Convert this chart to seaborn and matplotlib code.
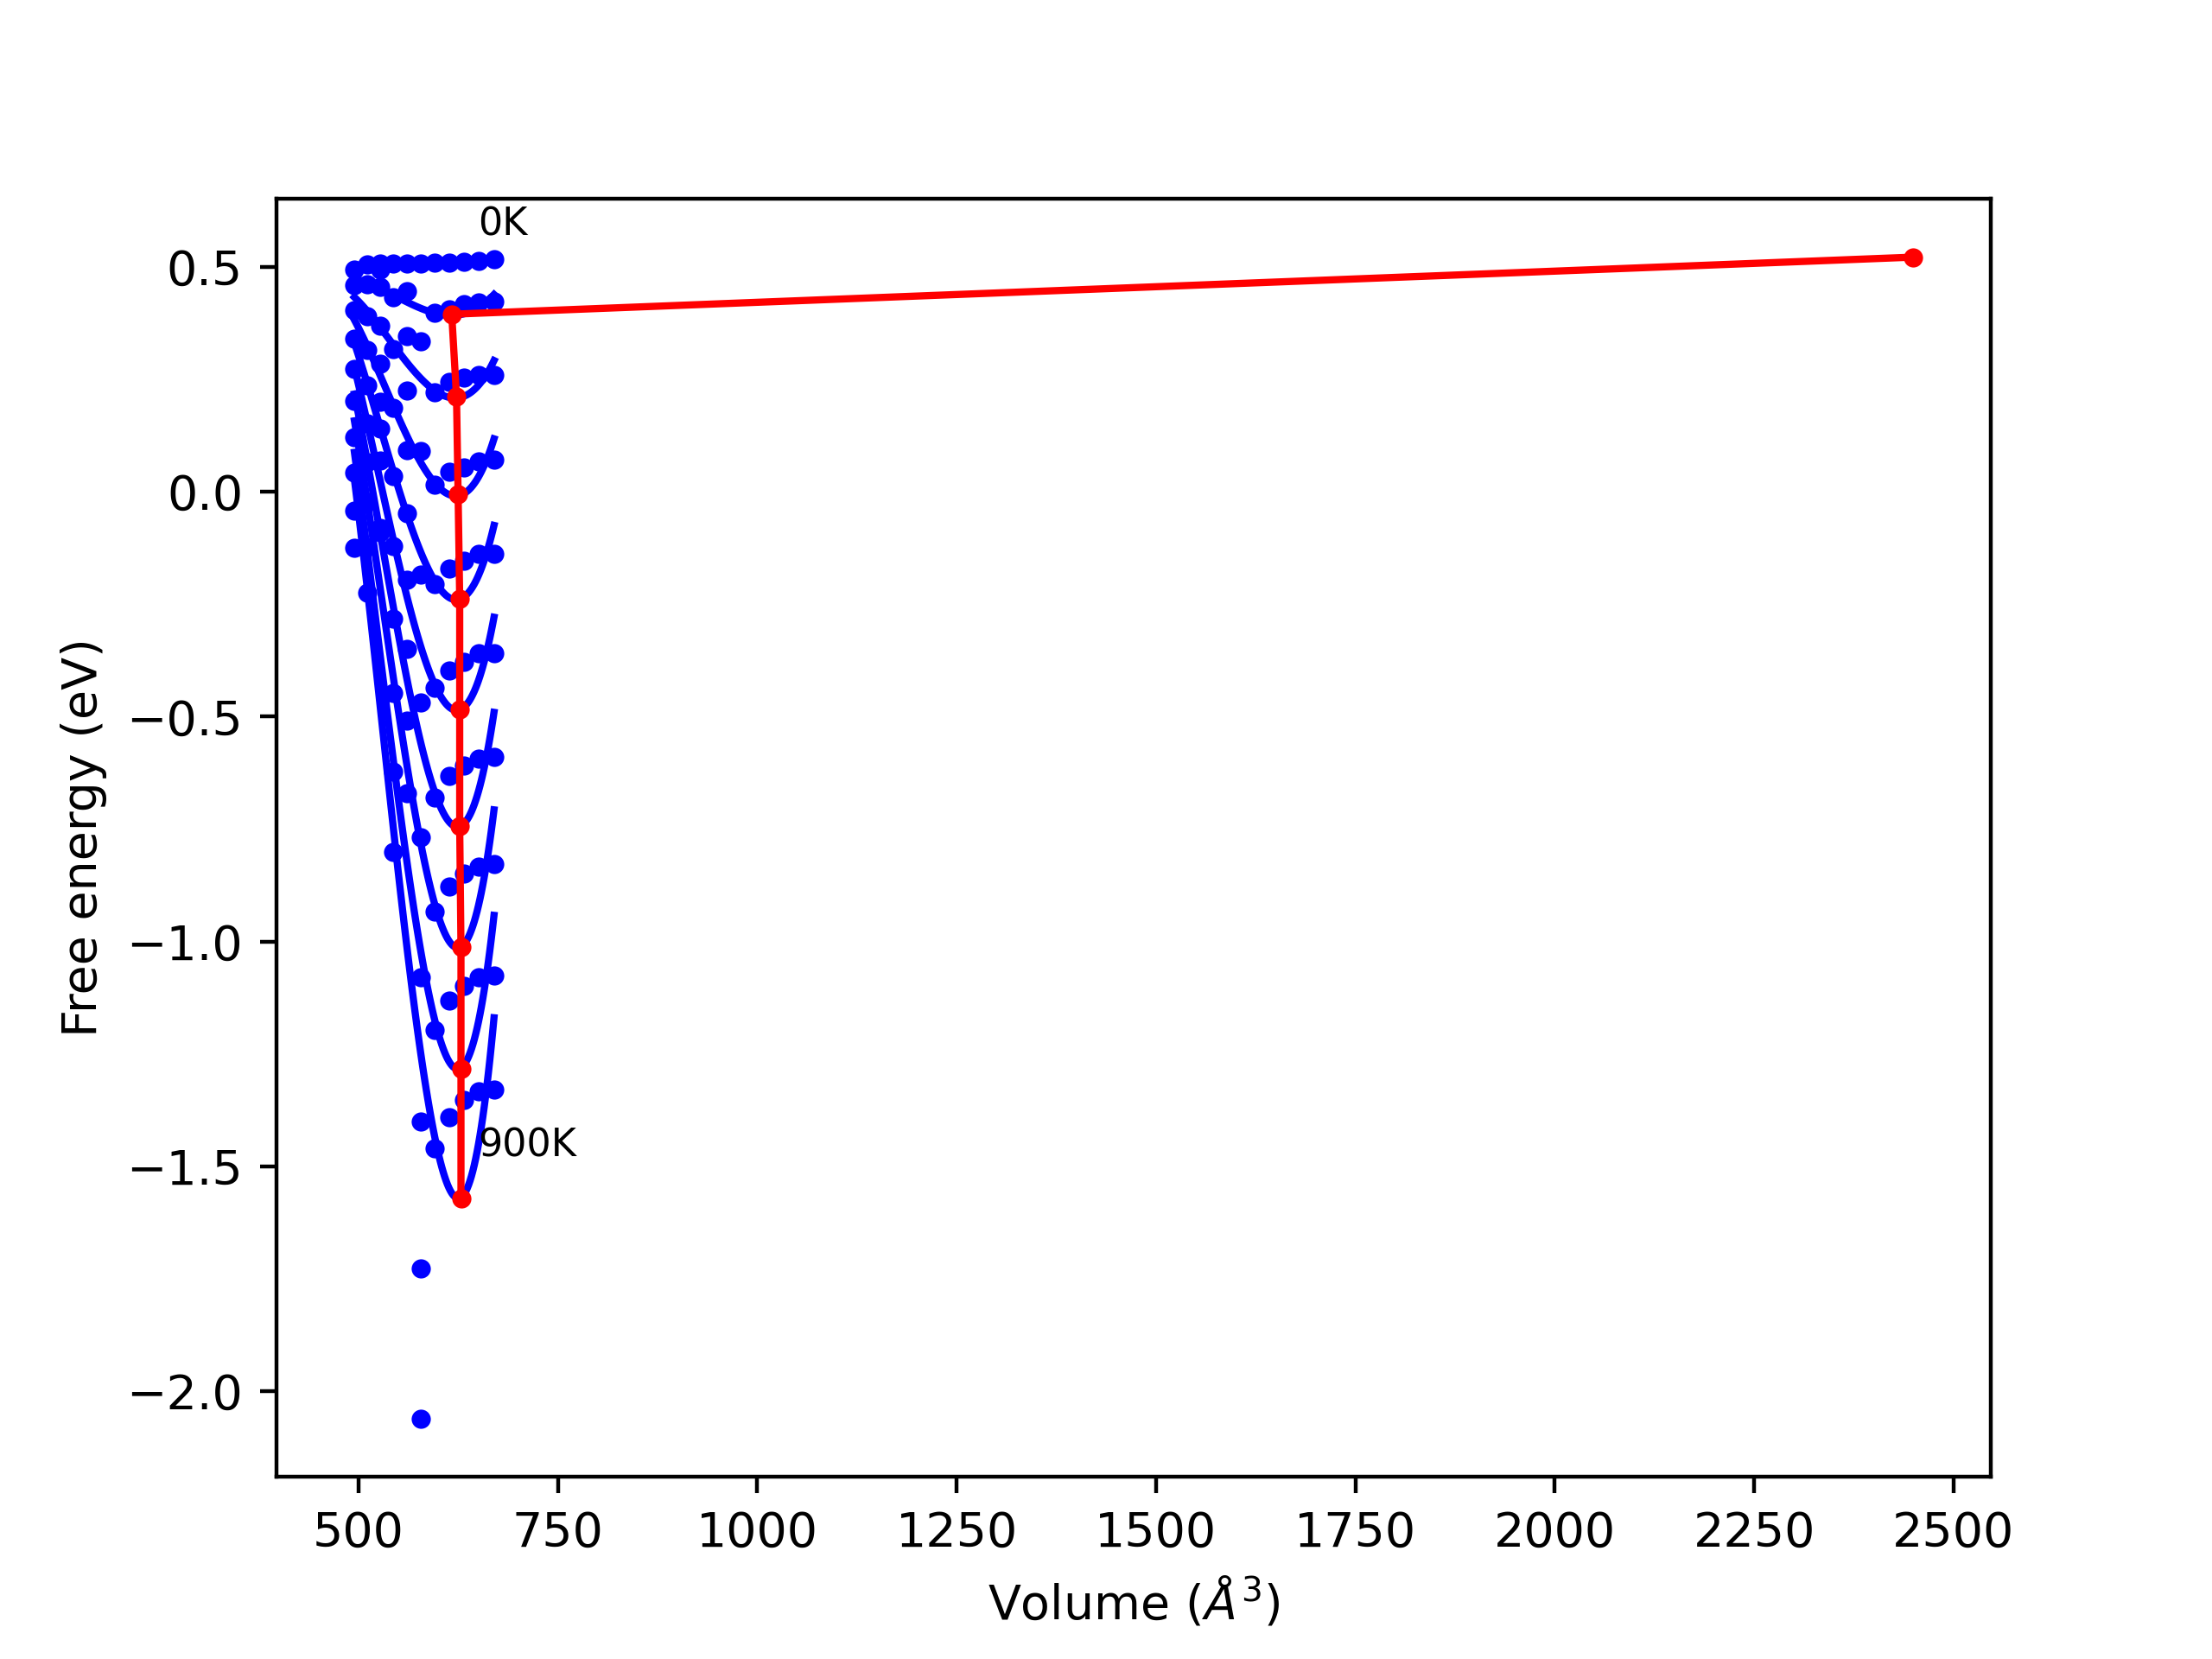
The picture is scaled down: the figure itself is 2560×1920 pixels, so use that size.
import numpy as np
import pandas as pd
import matplotlib
matplotlib.use('Agg')
import matplotlib.pyplot as plt
import seaborn as sns

# volumes of the sampled cells (A^3)
volumes = [495, 511, 527, 544, 561, 578, 596, 614, 632, 651, 670]
temperatures = [0, 100, 200, 300, 400, 500, 600, 700, 800, 900]

# free energy (eV) at each volume, one list per temperature
f_0K = [0.494, 0.506, 0.507, 0.508, 0.508, 0.508, 0.510, 0.510, 0.512, 0.513, 0.518]
f_100K = [0.459, 0.462, 0.495, 0.433, 0.447, 0.334, 0.398, 0.405, 0.417, 0.422, 0.423]
f_200K = [0.404, 0.391, 0.455, 0.318, 0.347, 0.090, 0.222, 0.244, 0.254, 0.260, 0.260]
f_300K = [0.340, 0.316, 0.370, 0.186, 0.226, -0.185, 0.016, 0.045, 0.055, 0.068, 0.071]
f_400K = [0.273, 0.236, 0.285, 0.035, 0.093, -0.468, -0.205, -0.170, -0.154, -0.138, -0.138]
f_500K = [0.202, 0.152, 0.200, -0.121, -0.048, -0.769, -0.436, -0.397, -0.378, -0.359, -0.359]
f_600K = [0.122, 0.066, 0.140, -0.282, -0.195, -1.080, -0.679, -0.631, -0.609, -0.593, -0.590]
f_700K = [0.042, -0.023, 0.070, -0.448, -0.349, -1.400, -0.933, -0.878, -0.849, -0.833, -0.827]
f_800K = [-0.041, -0.122, -0.080, -0.622, -0.509, -1.728, -1.196, -1.131, -1.099, -1.080, -1.076]
f_900K = [-0.125, -0.224, -0.090, -0.801, -0.670, -2.061, -1.461, -1.391, -1.352, -1.333, -1.330]

# minimum of each fitted curve
min_volume = [2449, 617, 623, 625, 627, 627, 627, 628.6, 628.6, 628.6]
min_energy = [0.522, 0.395, 0.212, -0.006, -0.237, -0.484, -0.744, -1.013, -1.283, -1.571]

energies = [f_0K, f_100K, f_200K, f_300K, f_400K,
            f_500K, f_600K, f_700K, f_800K, f_900K]

fig, ax = plt.subplots(figsize=(6.4, 4.8), dpi=400)

for T, F in zip(temperatures, energies):
    sns.scatterplot(x=volumes, y=F, color='blue', s=16, linewidth=0, ax=ax, zorder=2)
    # cubic fit of F(V) at this temperature
    sns.regplot(x=volumes, y=F, order=3, ci=None, scatter=False, truncate=True,
                color='blue', line_kws={'lw': 1.5, 'zorder': 2}, ax=ax)

sns.lineplot(x=min_volume, y=min_energy, sort=False, estimator=None,
             color='red', lw=1.5, marker='o', markersize=4,
             markeredgewidth=0, ax=ax, zorder=3)

ax.text(650, 0.571, '0K', fontsize=8)
ax.text(650, -1.478, '900K', fontsize=8)

ax.set_xlabel(r'Volume ($\AA^3$)')
ax.set_ylabel('Free energy (eV)')

fig.savefig('out.png', dpi=400)
